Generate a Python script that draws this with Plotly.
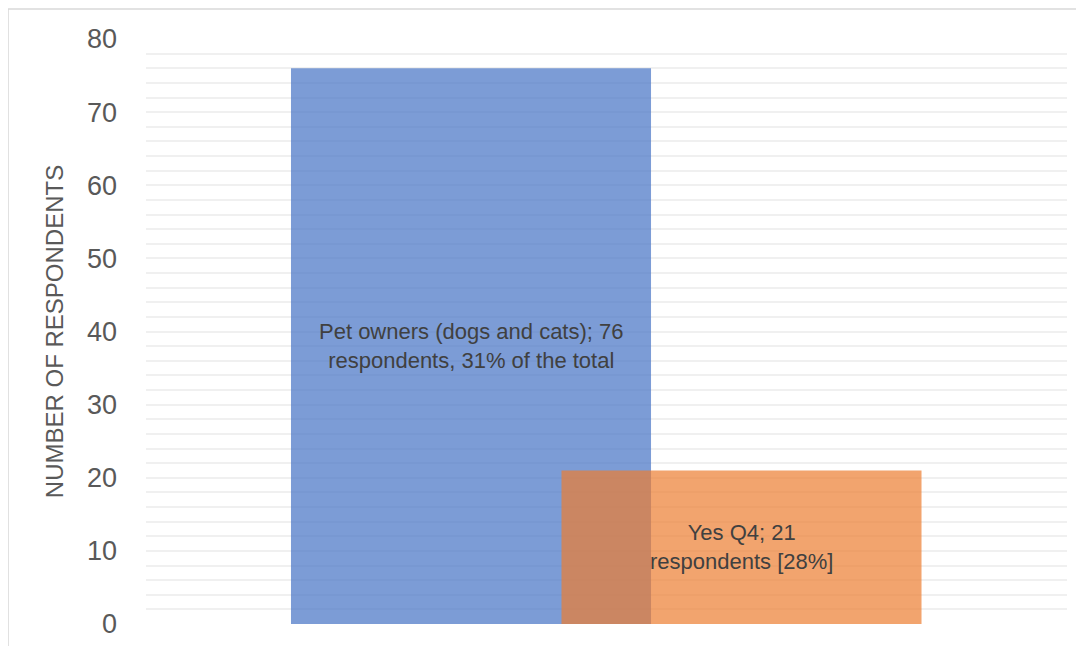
import plotly.graph_objects as go

# data
groups = ["Pet owners (dogs and cats)", "Yes Q4"]
respondents = [76, 21]
labels = ["Pet owners (dogs and cats); 76<br>respondents, 31% of the total",
          "Yes Q4; 21<br>respondents [28%]"]
colors = ["rgba(68,114,196,0.7)", "rgba(237,125,49,0.7)"]

fig = go.Figure()
for i in range(len(groups)):
    fig.add_trace(go.Bar(
        x=[i], y=[respondents[i]], width=1.331,
        name=groups[i],
        marker=dict(color=colors[i], line=dict(width=0)),
    ))
    fig.add_annotation(x=i, y=respondents[i] / 2, text=labels[i], showarrow=False,
                       font=dict(family="Liberation Sans, Arial", size=22, color="#404040"))

# the page sits 8px in from the window edge, margins allow for that
fig.update_layout(
    width=1084, height=646,
    margin=dict(l=138, r=25, t=31, b=30),
    plot_bgcolor="white", paper_bgcolor="white",
    showlegend=False,
    barmode="overlay",
    font=dict(family="Liberation Sans, Arial", color="#595959"),
    xaxis=dict(range=[-1.2015, 2.2033], showticklabels=False, showgrid=False,
               zeroline=False, fixedrange=True),
    yaxis=dict(range=[0, 80], dtick=10, showgrid=True, gridcolor="#F0F0F0", gridwidth=1.5,
               zeroline=False, tickfont=dict(size=27, color="#595959"), ticklen=0,
               ticks="", ticklabelstandoff=28,
               minor=dict(dtick=2, showgrid=True, gridcolor="#F0F0F0", gridwidth=1.5),
               title=dict(text="NUMBER OF RESPONDENTS", standoff=16,
                          font=dict(size=24, color="#595959"))),
)

# outer chart border
fig.add_shape(type="rect", xref="paper", yref="paper",
              x0=-0.1498, x1=1.0174, y0=-0.2, y1=1.0513,
              line=dict(color="#D9D9D9", width=1.5), layer="below")

fig.write_html("out.html")
